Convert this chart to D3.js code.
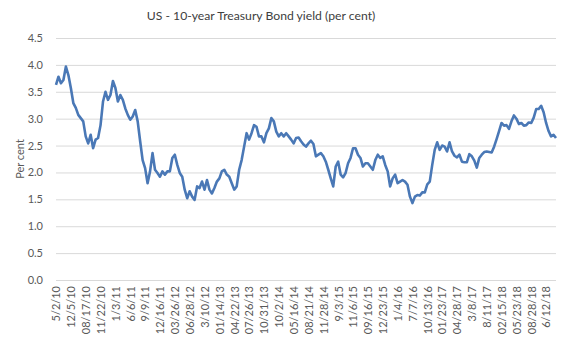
<!DOCTYPE html>
<html>
<head>
<meta charset="utf-8">
<script src="https://cdn.jsdelivr.net/npm/d3@7"></script>
<style>
  html, body { margin: 0; padding: 0; background: #ffffff; }
  svg { display: block; font-family: Lato, "Liberation Sans", sans-serif; }
</style>
</head>
<body>
<svg id="chart" width="567" height="340"></svg>
<script>
// Category labels shown under the axis (one every sixth observation)
const categoryLabels = [
  "5/2/10", "12/5/10", "08/17/10", "11/22/10", "1/3/11", "6/6/11", "9/9/11",
  "12/16/11", "03/26/12", "06/28/12", "3/10/12", "01/14/13", "04/22/13",
  "07/26/13", "10/31/13", "10/2/14", "05/16/14", "08/21/14", "11/28/14",
  "9/3/15", "11/6/15", "09/16/15", "12/23/15", "1/4/16", "7/7/16", "10/13/16",
  "01/23/17", "04/28/17", "3/8/17", "8/11/17", "02/15/18", "05/23/18",
  "08/28/18", "6/12/18"
];
const labelEvery = 6;

// 10-year Treasury yield, per cent
const yieldValues = [
  3.63, 3.78, 3.66, 3.72, 3.97, 3.81, 3.57, 3.29, 3.20, 3.07,
  3.01, 2.95, 2.67, 2.54, 2.70, 2.45, 2.61, 2.64, 2.88, 3.32,
  3.50, 3.35, 3.44, 3.70, 3.57, 3.32, 3.44, 3.35, 3.19, 3.07,
  2.98, 3.04, 3.16, 2.95, 2.58, 2.23, 2.08, 1.80, 2.02, 2.36,
  2.05, 1.99, 1.92, 2.02, 1.96, 2.02, 2.02, 2.27, 2.33, 2.14,
  1.99, 1.92, 1.68, 1.52, 1.65, 1.55, 1.49, 1.74, 1.71, 1.83,
  1.68, 1.86, 1.68, 1.61, 1.71, 1.83, 1.89, 2.02, 2.05, 1.96,
  1.92, 1.80, 1.68, 1.74, 2.05, 2.23, 2.48, 2.73, 2.61, 2.73,
  2.88, 2.85, 2.67, 2.67, 2.56, 2.73, 2.82, 3.01, 2.95, 2.76,
  2.67, 2.73, 2.67, 2.73, 2.67, 2.61, 2.54, 2.64, 2.65, 2.58,
  2.52, 2.48, 2.54, 2.59, 2.53, 2.30, 2.33, 2.36, 2.30, 2.20,
  2.05, 1.89, 1.74, 2.11, 2.20, 1.96, 1.91, 1.99, 2.17, 2.27,
  2.45, 2.45, 2.33, 2.27, 2.11, 2.17, 2.17, 2.11, 2.05, 2.23,
  2.33, 2.27, 2.30, 2.14, 2.02, 1.74, 1.89, 1.96, 1.80, 1.83,
  1.86, 1.83, 1.77, 1.55, 1.43, 1.55, 1.58, 1.57, 1.63, 1.63,
  1.78, 1.83, 2.14, 2.42, 2.56, 2.42, 2.50, 2.48, 2.39, 2.56,
  2.39, 2.31, 2.28, 2.33, 2.20, 2.19, 2.19, 2.34, 2.30, 2.22,
  2.09, 2.27, 2.33, 2.38, 2.39, 2.38, 2.37, 2.48, 2.62, 2.77,
  2.92, 2.87, 2.88, 2.81, 2.95, 3.06, 3.00, 2.90, 2.92, 2.87,
  2.88, 2.93, 2.92, 3.02, 3.18, 3.18, 3.24, 3.12, 2.92, 2.77,
  2.67, 2.70, 2.64
];

const yTicks = [0, 0.5, 1.0, 1.5, 2.0, 2.5, 3.0, 3.5, 4.0, 4.5];

const svg = d3.select("#chart");
const plot = { left: 56, right: 556, top: 38, bottom: 280 };

const x = d3.scaleLinear()
  .domain([0, yieldValues.length - 1])
  .range([plot.left, plot.right]);

const y = d3.scaleLinear()
  .domain([0, 4.5])
  .range([plot.bottom, plot.top]);

// Title
svg.append("text")
  .attr("x", 261)
  .attr("y", 20)
  .attr("text-anchor", "middle")
  .attr("fill", "#404040")
  .style("font-size", "12.2px")
  .text("US - 10-year Treasury Bond yield (per cent)");

// Horizontal gridlines and value labels
const yAxis = d3.axisLeft(y)
  .tickValues(yTicks)
  .tickFormat(d3.format(".1f"))
  .tickSize(-(plot.right - plot.left))
  .tickPadding(13);

svg.append("g")
  .attr("transform", `translate(${plot.left},0)`)
  .call(yAxis)
  .call(g => g.select(".domain").remove())
  .call(g => g.selectAll(".tick line").attr("stroke", "#d9d9d9").attr("stroke-width", 1))
  .call(g => g.selectAll(".tick text")
    .attr("fill", "#595959")
    .style("font-size", "11px")
    .style("font-family", "Lato, 'Liberation Sans', sans-serif"));

// Axis title
svg.append("text")
  .attr("transform", "translate(20,159) rotate(-90)")
  .attr("text-anchor", "middle")
  .attr("dy", "0.35em")
  .attr("fill", "#595959")
  .style("font-size", "11px")
  .text("Per cent");

// Category axis with rotated date labels
const xAxis = d3.axisBottom(x)
  .tickValues(d3.range(categoryLabels.length).map(j => j * labelEvery))
  .tickFormat(i => categoryLabels[i / labelEvery])
  .tickSize(0);

svg.append("g")
  .attr("transform", `translate(0,${plot.bottom})`)
  .call(xAxis)
  .call(g => g.select(".domain").remove())
  .call(g => g.selectAll(".tick text")
    .attr("transform", "rotate(-90)")
    .attr("text-anchor", "end")
    .attr("x", -6)
    .attr("y", 0)
    .attr("dy", "0.35em")
    .attr("fill", "#595959")
    .style("font-size", "11px")
    .style("font-family", "Lato, 'Liberation Sans', sans-serif"));

// Yield line
const line = d3.line()
  .x((d, i) => x(i))
  .y(d => y(d));

svg.append("path")
  .datum(yieldValues)
  .attr("fill", "none")
  .attr("stroke", "#4a78b6")
  .attr("stroke-width", 2.6)
  .attr("stroke-linejoin", "round")
  .attr("d", line);
</script>
</body>
</html>
